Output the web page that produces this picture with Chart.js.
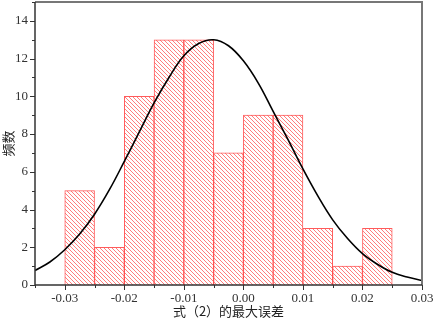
<!DOCTYPE html>
<html>
<head>
<meta charset="utf-8">
<script src="https://cdn.jsdelivr.net/npm/chart.js@4/dist/chart.umd.min.js"></script>
<style>
  html, body { margin: 0; padding: 0; background: #fff; }
  #wrap { width: 436px; height: 319px; }
</style>
</head>
<body>
<div id="wrap"><canvas id="myChart"></canvas></div>
<script>
// histogram bins (left edges), width 0.005
var binStarts = [-0.03, -0.025, -0.02, -0.015, -0.01, -0.005, 0, 0.005, 0.01, 0.015, 0.02];
var binWidth = 0.005;
var counts = [5, 2, 10, 13, 13, 7, 9, 9, 3, 1, 3];

// fitted curve
var curveX = [-0.035, -0.0325, -0.03, -0.0275, -0.025, -0.0225, -0.02, -0.0175, -0.015, -0.0125,
              -0.01, -0.0075, -0.005, -0.0025, 0, 0.0025, 0.005, 0.0075, 0.01, 0.0125,
              0.015, 0.0175, 0.02, 0.0225, 0.025, 0.0275, 0.03];
var curveY = [0.77, 1.22, 1.87, 2.7, 3.75, 5.05, 6.55, 8.1, 9.65, 11.0,
              12.15, 12.8, 13.0, 12.68, 11.88, 10.7, 9.2, 7.7, 6.15, 4.72,
              3.45, 2.46, 1.66, 1.1, 0.67, 0.42, 0.24];

var xTicks = [-0.03, -0.02, -0.01, 0, 0.01, 0.02, 0.03];
var yTicks = [0, 2, 4, 6, 8, 10, 12, 14];

// hatch pattern for the bars
function hatch() {
  var c = document.createElement('canvas');
  c.width = 4; c.height = 4;
  var g = c.getContext('2d');
  g.fillStyle = '#fff';
  g.fillRect(0, 0, 4, 4);
  g.strokeStyle = 'rgba(255,70,70,0.7)';
  g.lineWidth = 1;
  g.beginPath();
  g.moveTo(-1, -1); g.lineTo(5, 5);
  g.moveTo(-1, 3); g.lineTo(1, 5);
  g.moveTo(3, -1); g.lineTo(5, 1);
  g.stroke();
  return g.createPattern(c, 'repeat');
}

var histData = binStarts.map(function (b, i) { return { x: b + binWidth / 2, y: counts[i] }; });
var curveData = curveX.map(function (x, i) { return { x: x, y: curveY[i] }; });

// frame + outward ticks (major and minor)
var framePlugin = {
  id: 'frame',
  afterDraw: function (chart) {
    var ctx = chart.ctx, a = chart.chartArea;
    var xs = chart.scales.x, ys = chart.scales.y;
    ctx.save();
    ctx.strokeStyle = '#777';
    ctx.lineWidth = 2;
    ctx.beginPath();
    ctx.moveTo(a.left, a.top); ctx.lineTo(a.right, a.top); ctx.lineTo(a.right, a.bottom);
    ctx.stroke();
    ctx.strokeStyle = '#333';
    ctx.lineWidth = 1.5;
    ctx.beginPath();
    ctx.moveTo(a.left, a.top); ctx.lineTo(a.left, a.bottom); ctx.lineTo(a.right, a.bottom);
    ctx.stroke();
    ctx.lineWidth = 1;
    ctx.beginPath();
    var v, p;
    for (v = -0.035; v <= 0.0301; v += 0.005) {
      p = Math.round(xs.getPixelForValue(v)) + 0.5;
      var major = Math.abs(Math.round(v * 100) - v * 100) < 1e-6;
      ctx.moveTo(p, a.bottom); ctx.lineTo(p, a.bottom + (major ? 5 : 3));
    }
    for (v = 0; v <= 15; v += 1) {
      p = Math.round(ys.getPixelForValue(v)) + 0.5;
      ctx.moveTo(a.left, p); ctx.lineTo(a.left - (v % 2 === 0 ? 5 : 3), p);
    }
    ctx.stroke();
    ctx.restore();
  }
};

var ctx = document.getElementById('myChart');
var myChart = new Chart(ctx, {
  type: 'bar',
  data: {
    datasets: [
      {
        type: 'bar',
        data: histData,
        backgroundColor: hatch(),
        borderColor: 'rgba(255,50,50,0.8)',
        borderWidth: 1,
        barPercentage: 1,
        categoryPercentage: 1,
        order: 2
      },
      {
        type: 'line',
        data: curveData,
        borderColor: '#000',
        borderWidth: 1.6,
        pointRadius: 0,
        tension: 0.4,
        fill: false,
        order: 1
      }
    ]
  },
  options: {
    responsive: true,
    maintainAspectRatio: false,
    animation: false,
    layout: { padding: { top: 2, right: 14, left: 0, bottom: 0 } },
    plugins: {
      legend: { display: false },
      tooltip: { enabled: false }
    },
    scales: {
      x: {
        type: 'linear',
        min: -0.035,
        max: 0.03,
        offset: false,
        afterBuildTicks: function (s) { s.ticks = xTicks.map(function (v) { return { value: v }; }); },
        afterFit: function (s) { s.height = 34; s.paddingLeft = 0; s.paddingRight = 0; },
        grid: { display: false, drawTicks: false },
        border: { display: false },
        ticks: {
          color: '#333',
          padding: 6,
          maxRotation: 0,
          font: { family: 'Liberation Serif', size: 13 },
          callback: function (v) { return v.toFixed(2); }
        },
        title: {
          display: true,
          text: '式（2）的最大误差',
          color: '#222',
          padding: { top: 0, bottom: 0 },
          font: { family: 'Noto Sans CJK SC', size: 13 }
        }
      },
      y: {
        min: 0,
        max: 15,
        afterBuildTicks: function (s) { s.ticks = yTicks.map(function (v) { return { value: v }; }); },
        afterFit: function (s) { s.width = 35; s.paddingTop = 0; s.paddingBottom = 0; },
        grid: { display: false, drawTicks: false },
        border: { display: false },
        ticks: {
          color: '#333',
          padding: 7,
          font: { family: 'Liberation Serif', size: 13 }
        },
        title: {
          display: true,
          text: '频数',
          color: '#222',
          padding: { top: 0, bottom: 0 },
          font: { family: 'Noto Sans CJK SC', size: 13 }
        }
      }
    }
  },
  plugins: [framePlugin]
});
</script>
</body>
</html>
